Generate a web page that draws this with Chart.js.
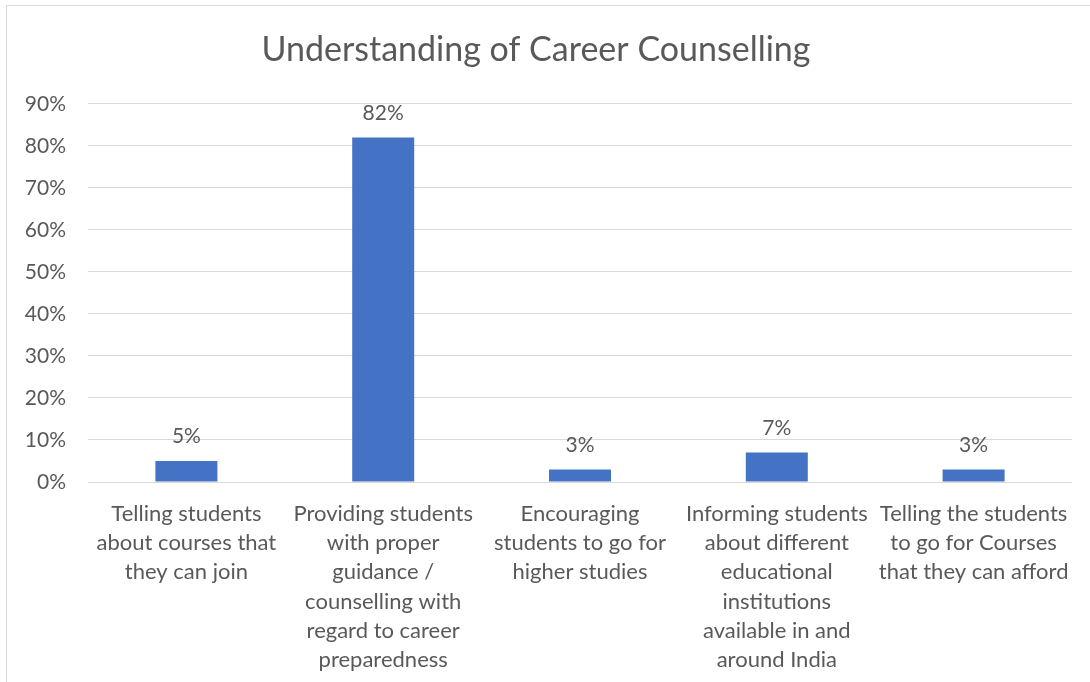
<!DOCTYPE html>
<html>
<head>
<meta charset="utf-8">
<script src="https://cdn.jsdelivr.net/npm/chart.js@4"></script>
<style>
  html, body { margin: 0; padding: 0; background: #fff; overflow: hidden; }
  #wrap { position: relative; width: 1090px; height: 682px; }
  #frame { position: absolute; left: 6px; top: 5px; width: 1100px; height: 700px;
           border: 1px solid #d9d9d9; pointer-events: none; }
</style>
</head>
<body>
<div id="wrap">
  <canvas id="careerChart" width="1090" height="682"></canvas>
  <div id="frame"></div>
</div>
<script>
// Svar: forståelse av karriereveiledning
const categories = [
  ["Telling students", "about courses that", "they can join"],
  ["Providing students", "with proper", "guidance /", "counselling with", "regard to career", "preparedness"],
  ["Encouraging", "students to go for", "higher studies"],
  ["Informing students", "about different", "educational", "institutions", "available in and", "around India"],
  ["Telling the students", "to go for Courses", "that they can afford"]
];
const shares = [0.05, 0.82, 0.03, 0.07, 0.03];
const yTicks = [0, 0.1, 0.2, 0.3, 0.4, 0.5, 0.6, 0.7, 0.8, 0.9];

const textColor = '#595959';
const fontFamily = 'Lato, "Open Sans", sans-serif';

// Prosentetiketter over hver søyle
const valueLabels = {
  id: 'valueLabels',
  afterDatasetsDraw(chart) {
    const ctx = chart.ctx;
    const meta = chart.getDatasetMeta(0);
    ctx.save();
    ctx.fillStyle = textColor;
    ctx.font = '21px ' + fontFamily;
    ctx.textAlign = 'center';
    ctx.textBaseline = 'bottom';
    meta.data.forEach((bar, i) => {
      const v = chart.data.datasets[0].data[i];
      ctx.fillText(Math.round(v * 100) + '%', bar.x, bar.y - 14);
    });
    ctx.restore();
  }
};

const ctx = document.getElementById('careerChart').getContext('2d');
new Chart(ctx, {
  type: 'bar',
  data: {
    labels: categories,
    datasets: [{
      data: shares,
      backgroundColor: '#4472C4',
      borderWidth: 0,
      barPercentage: 0.315,
      categoryPercentage: 1.0
    }]
  },
  options: {
    responsive: false,
    animation: false,
    layout: { padding: { top: 0, right: 18, bottom: 0, left: 0 } },
    plugins: {
      legend: { display: false },
      tooltip: { enabled: false },
      title: {
        display: true,
        text: 'Understanding of Career Counselling',
        color: textColor,
        font: { family: fontFamily, size: 34, weight: 'normal' },
        padding: { top: 30, bottom: 33 }
      }
    },
    scales: {
      y: {
        min: 0,
        max: 0.9,
        afterBuildTicks(scale) {
          scale.ticks = yTicks.map(v => ({ value: v }));
        },
        afterFit(scale) { scale.width = 88; },
        border: { display: false },
        grid: { color: '#d9d9d9', lineWidth: 1, drawTicks: false },
        ticks: {
          padding: 22,
          color: textColor,
          font: { family: fontFamily, size: 21 },
          callback: v => Math.round(v * 100) + '%'
        }
      },
      x: {
        afterFit(scale) { scale.height = 200; },
        border: { display: false },
        grid: { display: false, drawTicks: false },
        ticks: {
          padding: 17,
          autoSkip: false,
          minRotation: 0,
          maxRotation: 0,
          color: textColor,
          font: { family: fontFamily, size: 22, lineHeight: 1.33 }
        }
      }
    }
  },
  plugins: [valueLabels]
});
</script>
</body>
</html>
